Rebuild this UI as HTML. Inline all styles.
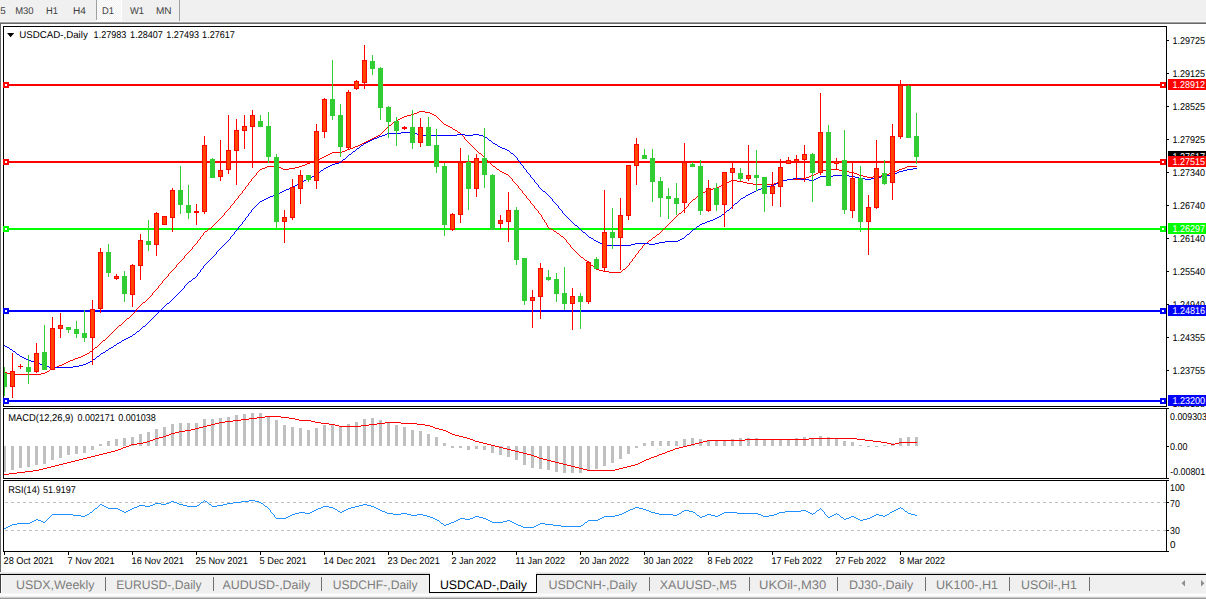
<!DOCTYPE html><html><head><meta charset="utf-8"><title>USDCAD-,Daily</title>
<style>html,body{margin:0;padding:0;background:#f0f0f0;overflow:hidden}svg{display:block}text{font-family:"Liberation Sans",sans-serif;text-rendering:geometricPrecision}.ax{font-size:9.9px;fill:#000}.tb{font-size:9.8px;fill:#404040}.tab{font-size:12.4px;fill:#7d7d7d}.dt{font-size:9.9px;fill:#000}.lbl{font-size:9.9px;fill:#fff}</style></head><body>
<svg width="1206" height="599" viewBox="0 0 1206 599">
<g shape-rendering="crispEdges">
<rect x="0" y="0" width="1206" height="599" fill="#f0f0f0"/>
<rect x="96" y="0" width="1" height="20" fill="#a0a0a0"/>
<rect x="179" y="0" width="1" height="22" fill="#a0a0a0"/>
<defs><pattern id="ck" width="2" height="2" patternUnits="userSpaceOnUse"><rect width="2" height="2" fill="#f0f0f0"/><rect width="1" height="1" fill="#fff"/><rect x="1" y="1" width="1" height="1" fill="#fff"/></pattern></defs>
<rect x="97" y="0" width="24" height="20" fill="url(#ck)"/>
<rect x="121" y="0" width="1" height="21" fill="#fff"/>
<rect x="96" y="20" width="26" height="1" fill="#fff"/>
<rect x="0" y="21" width="1206" height="1" fill="#f8f8f8"/>
<rect x="0" y="22" width="1206" height="1" fill="#a0a0a0"/>
<rect x="0" y="23" width="1206" height="1" fill="#696969"/>
<rect x="0" y="24" width="1206" height="549" fill="#fff"/>
<rect x="0" y="24" width="1" height="548" fill="#696969"/>
<rect x="3" y="26" width="1164" height="1" fill="#000"/>
<rect x="3" y="26" width="1" height="381" fill="#000"/>
<rect x="3" y="406" width="1164" height="1" fill="#000"/>
<rect x="1166" y="26" width="1" height="381" fill="#000"/>
<rect x="3" y="408" width="1164" height="1" fill="#000"/>
<rect x="3" y="408" width="1" height="71" fill="#000"/>
<rect x="3" y="478" width="1164" height="1" fill="#000"/>
<rect x="1166" y="408" width="1" height="71" fill="#000"/>
<rect x="3" y="480" width="1164" height="1" fill="#000"/>
<rect x="3" y="480" width="1" height="72" fill="#000"/>
<rect x="3" y="551" width="1164" height="1" fill="#000"/>
<rect x="1166" y="480" width="1" height="72" fill="#000"/>
</g>
<g shape-rendering="crispEdges">
<rect x="4" y="84" width="1162" height="2" fill="#ff0000"/>
<rect x="3" y="82" width="6" height="6" fill="#ff0000"/>
<rect x="5" y="84" width="2" height="2" fill="#fff"/>
<rect x="1160" y="82" width="6" height="6" fill="#ff0000"/>
<rect x="1162" y="84" width="2" height="2" fill="#fff"/>
<rect x="4" y="161" width="1162" height="2" fill="#ff0000"/>
<rect x="3" y="159" width="6" height="6" fill="#ff0000"/>
<rect x="5" y="161" width="2" height="2" fill="#fff"/>
<rect x="1160" y="159" width="6" height="6" fill="#ff0000"/>
<rect x="1162" y="161" width="2" height="2" fill="#fff"/>
<rect x="4" y="228" width="1162" height="2" fill="#00ff00"/>
<rect x="3" y="226" width="6" height="6" fill="#00ff00"/>
<rect x="5" y="228" width="2" height="2" fill="#fff"/>
<rect x="1160" y="226" width="6" height="6" fill="#00ff00"/>
<rect x="1162" y="228" width="2" height="2" fill="#fff"/>
<rect x="4" y="310" width="1162" height="2" fill="#0000ff"/>
<rect x="3" y="308" width="6" height="6" fill="#0000ff"/>
<rect x="5" y="310" width="2" height="2" fill="#fff"/>
<rect x="1160" y="308" width="6" height="6" fill="#0000ff"/>
<rect x="1162" y="310" width="2" height="2" fill="#fff"/>
<rect x="4" y="400" width="1162" height="2" fill="#0000ff"/>
<rect x="3" y="398" width="6" height="6" fill="#0000ff"/>
<rect x="5" y="400" width="2" height="2" fill="#fff"/>
<rect x="1160" y="398" width="6" height="6" fill="#0000ff"/>
<rect x="1162" y="400" width="2" height="2" fill="#fff"/>
</g>
<defs><clipPath id="cm"><rect x="4" y="27" width="1162" height="379"/></clipPath></defs>
<g shape-rendering="crispEdges" clip-path="url(#cm)">
<path d="M419 111h6v1h-6zM417 112h2v1h-2zM425 112h5v1h-5zM414 113h3v1h-3zM430 113h2v1h-2zM411 114h3v1h-3zM432 114h2v1h-2zM407 115h4v1h-4zM434 115h2v1h-2zM404 116h3v1h-3zM436 116h1v1h-1zM402 117h2v1h-2zM437 117h1v1h-1zM400 118h2v1h-2zM438 118h1v1h-1zM398 119h2v1h-2zM439 119h1v1h-1zM396 120h2v1h-2zM440 120h1v1h-1zM395 121h1v1h-1zM441 121h1v1h-1zM393 122h2v1h-2zM442 122h1v1h-1zM392 123h1v1h-1zM443 123h1v1h-1zM391 124h1v1h-1zM444 124h2v1h-2zM389 125h2v1h-2zM446 125h2v1h-2zM388 126h1v1h-1zM448 126h2v1h-2zM387 127h1v1h-1zM450 127h2v1h-2zM386 128h1v1h-1zM452 128h1v1h-1zM385 129h1v1h-1zM453 129h2v1h-2zM384 130h1v1h-1zM455 130h2v1h-2zM383 131h1v1h-1zM457 131h1v1h-1zM382 132h1v1h-1zM458 132h2v1h-2zM381 133h1v1h-1zM460 133h1v1h-1zM380 134h1v1h-1zM461 134h1v1h-1zM378 135h2v1h-2zM462 135h1v1h-1zM376 136h2v1h-2zM463 136h1v1h-1zM374 137h2v1h-2zM464 137h1v1h-1zM372 138h2v1h-2zM464 138h1v1h-1zM370 139h2v1h-2zM465 139h1v1h-1zM368 140h2v1h-2zM466 140h1v1h-1zM366 141h2v1h-2zM467 141h1v1h-1zM364 142h2v1h-2zM468 142h1v1h-1zM362 143h2v1h-2zM469 143h1v1h-1zM360 144h2v1h-2zM470 144h1v1h-1zM358 145h2v1h-2zM471 145h1v1h-1zM355 146h3v1h-3zM472 146h1v1h-1zM353 147h2v1h-2zM473 147h1v1h-1zM350 148h3v1h-3zM474 148h1v1h-1zM347 149h3v1h-3zM475 149h1v1h-1zM345 150h2v1h-2zM476 150h1v1h-1zM342 151h3v1h-3zM477 151h1v1h-1zM332 152h10v1h-10zM478 152h1v1h-1zM330 153h2v1h-2zM479 153h2v1h-2zM328 154h2v1h-2zM481 154h1v1h-1zM326 155h2v1h-2zM482 155h1v1h-1zM324 156h2v1h-2zM483 156h1v1h-1zM322 157h2v1h-2zM484 157h1v1h-1zM320 158h2v1h-2zM485 158h1v1h-1zM318 159h2v1h-2zM486 159h1v1h-1zM315 160h3v1h-3zM487 160h1v1h-1zM313 161h2v1h-2zM488 161h1v1h-1zM310 162h3v1h-3zM489 162h1v1h-1zM307 163h3v1h-3zM490 163h1v1h-1zM305 164h2v1h-2zM491 164h1v1h-1zM302 165h3v1h-3zM492 165h1v1h-1zM267 166h11v1h-11zM299 166h3v1h-3zM493 166h2v1h-2zM907 166h10v1h-10zM265 167h2v1h-2zM278 167h3v1h-3zM295 167h4v1h-4zM495 167h1v1h-1zM905 167h2v1h-2zM262 168h3v1h-3zM281 168h2v1h-2zM289 168h6v1h-6zM496 168h1v1h-1zM902 168h3v1h-3zM260 169h2v1h-2zM283 169h6v1h-6zM497 169h2v1h-2zM827 169h12v1h-12zM899 169h3v1h-3zM259 170h1v1h-1zM499 170h1v1h-1zM823 170h4v1h-4zM839 170h4v1h-4zM897 170h2v1h-2zM258 171h1v1h-1zM500 171h2v1h-2zM820 171h3v1h-3zM843 171h6v1h-6zM894 171h3v1h-3zM257 172h1v1h-1zM502 172h2v1h-2zM818 172h2v1h-2zM849 172h5v1h-5zM891 172h3v1h-3zM256 173h1v1h-1zM504 173h2v1h-2zM816 173h2v1h-2zM854 173h3v1h-3zM889 173h2v1h-2zM256 174h1v1h-1zM506 174h2v1h-2zM814 174h2v1h-2zM857 174h2v1h-2zM886 174h3v1h-3zM255 175h1v1h-1zM508 175h1v1h-1zM811 175h3v1h-3zM859 175h4v1h-4zM881 175h5v1h-5zM254 176h1v1h-1zM509 176h1v1h-1zM809 176h2v1h-2zM863 176h4v1h-4zM873 176h8v1h-8zM253 177h1v1h-1zM510 177h1v1h-1zM806 177h3v1h-3zM867 177h6v1h-6zM252 178h1v1h-1zM511 178h1v1h-1zM801 178h5v1h-5zM251 179h1v1h-1zM512 179h1v1h-1zM787 179h14v1h-14zM251 180h1v1h-1zM512 180h1v1h-1zM731 180h6v1h-6zM783 180h4v1h-4zM250 181h1v1h-1zM513 181h1v1h-1zM729 181h2v1h-2zM737 181h6v1h-6zM779 181h4v1h-4zM249 182h1v1h-1zM514 182h1v1h-1zM726 182h3v1h-3zM743 182h4v1h-4zM777 182h2v1h-2zM248 183h1v1h-1zM515 183h1v1h-1zM724 183h2v1h-2zM747 183h6v1h-6zM774 183h3v1h-3zM248 184h1v1h-1zM516 184h1v1h-1zM722 184h2v1h-2zM753 184h21v1h-21zM247 185h1v1h-1zM517 185h1v1h-1zM721 185h1v1h-1zM246 186h1v1h-1zM518 186h1v1h-1zM719 186h2v1h-2zM245 187h1v1h-1zM518 187h1v1h-1zM717 187h2v1h-2zM245 188h1v1h-1zM519 188h1v1h-1zM713 188h4v1h-4zM244 189h1v1h-1zM520 189h1v1h-1zM708 189h5v1h-5zM243 190h1v1h-1zM521 190h1v1h-1zM706 190h2v1h-2zM242 191h1v1h-1zM522 191h1v1h-1zM705 191h1v1h-1zM242 192h1v1h-1zM522 192h1v1h-1zM703 192h2v1h-2zM241 193h1v1h-1zM523 193h1v1h-1zM701 193h2v1h-2zM240 194h1v1h-1zM524 194h1v1h-1zM700 194h1v1h-1zM239 195h1v1h-1zM525 195h1v1h-1zM699 195h1v1h-1zM238 196h1v1h-1zM526 196h1v1h-1zM697 196h2v1h-2zM238 197h1v1h-1zM526 197h1v1h-1zM696 197h1v1h-1zM237 198h1v1h-1zM527 198h1v1h-1zM695 198h1v1h-1zM236 199h1v1h-1zM528 199h1v1h-1zM693 199h2v1h-2zM235 200h1v1h-1zM529 200h1v1h-1zM692 200h1v1h-1zM234 201h1v1h-1zM530 201h1v1h-1zM691 201h1v1h-1zM234 202h1v1h-1zM530 202h1v1h-1zM690 202h1v1h-1zM233 203h1v1h-1zM531 203h1v1h-1zM689 203h1v1h-1zM232 204h1v1h-1zM532 204h1v1h-1zM688 204h1v1h-1zM231 205h1v1h-1zM533 205h1v1h-1zM688 205h1v1h-1zM230 206h1v1h-1zM534 206h1v1h-1zM687 206h1v1h-1zM230 207h1v1h-1zM534 207h1v1h-1zM686 207h1v1h-1zM229 208h1v1h-1zM535 208h1v1h-1zM685 208h1v1h-1zM228 209h1v1h-1zM536 209h1v1h-1zM684 209h1v1h-1zM227 210h1v1h-1zM537 210h1v1h-1zM683 210h1v1h-1zM226 211h1v1h-1zM538 211h1v1h-1zM682 211h1v1h-1zM225 212h1v1h-1zM538 212h1v1h-1zM681 212h1v1h-1zM224 213h1v1h-1zM539 213h1v1h-1zM679 213h2v1h-2zM224 214h1v1h-1zM540 214h1v1h-1zM678 214h1v1h-1zM223 215h1v1h-1zM541 215h1v1h-1zM677 215h1v1h-1zM222 216h1v1h-1zM541 216h1v1h-1zM676 216h1v1h-1zM221 217h1v1h-1zM542 217h1v1h-1zM675 217h1v1h-1zM220 218h1v1h-1zM542 218h1v1h-1zM674 218h1v1h-1zM219 219h1v1h-1zM543 219h1v1h-1zM673 219h1v1h-1zM218 220h1v1h-1zM544 220h1v1h-1zM672 220h1v1h-1zM217 221h1v1h-1zM544 221h1v1h-1zM671 221h1v1h-1zM216 222h1v1h-1zM545 222h1v1h-1zM670 222h1v1h-1zM215 223h1v1h-1zM546 223h1v1h-1zM669 223h1v1h-1zM214 224h1v1h-1zM546 224h1v1h-1zM668 224h1v1h-1zM213 225h1v1h-1zM547 225h1v1h-1zM667 225h1v1h-1zM212 226h1v1h-1zM547 226h1v1h-1zM666 226h1v1h-1zM211 227h1v1h-1zM548 227h1v1h-1zM665 227h1v1h-1zM209 228h2v1h-2zM549 228h2v1h-2zM664 228h1v1h-1zM208 229h1v1h-1zM551 229h2v1h-2zM663 229h1v1h-1zM207 230h1v1h-1zM553 230h1v1h-1zM662 230h1v1h-1zM205 231h2v1h-2zM554 231h2v1h-2zM661 231h1v1h-1zM204 232h1v1h-1zM556 232h1v1h-1zM660 232h1v1h-1zM203 233h1v1h-1zM557 233h2v1h-2zM659 233h1v1h-1zM203 234h1v1h-1zM559 234h1v1h-1zM657 234h2v1h-2zM202 235h1v1h-1zM560 235h1v1h-1zM656 235h1v1h-1zM201 236h1v1h-1zM561 236h2v1h-2zM655 236h1v1h-1zM200 237h1v1h-1zM563 237h1v1h-1zM653 237h2v1h-2zM200 238h1v1h-1zM564 238h1v1h-1zM652 238h1v1h-1zM199 239h1v1h-1zM565 239h1v1h-1zM651 239h1v1h-1zM198 240h1v1h-1zM566 240h1v1h-1zM649 240h2v1h-2zM197 241h1v1h-1zM566 241h1v1h-1zM648 241h1v1h-1zM197 242h1v1h-1zM567 242h1v1h-1zM647 242h1v1h-1zM196 243h1v1h-1zM568 243h1v1h-1zM645 243h2v1h-2zM195 244h1v1h-1zM569 244h1v1h-1zM644 244h1v1h-1zM194 245h1v1h-1zM570 245h1v1h-1zM643 245h1v1h-1zM193 246h1v1h-1zM570 246h1v1h-1zM642 246h1v1h-1zM192 247h1v1h-1zM571 247h1v1h-1zM642 247h1v1h-1zM192 248h1v1h-1zM572 248h1v1h-1zM641 248h1v1h-1zM191 249h1v1h-1zM573 249h1v1h-1zM640 249h1v1h-1zM190 250h1v1h-1zM574 250h1v1h-1zM639 250h1v1h-1zM189 251h1v1h-1zM575 251h1v1h-1zM638 251h1v1h-1zM188 252h1v1h-1zM576 252h1v1h-1zM638 252h1v1h-1zM187 253h1v1h-1zM577 253h1v1h-1zM637 253h1v1h-1zM186 254h1v1h-1zM578 254h1v1h-1zM636 254h1v1h-1zM185 255h1v1h-1zM579 255h1v1h-1zM635 255h1v1h-1zM184 256h1v1h-1zM580 256h1v1h-1zM635 256h1v1h-1zM184 257h1v1h-1zM581 257h2v1h-2zM634 257h1v1h-1zM183 258h1v1h-1zM583 258h1v1h-1zM633 258h1v1h-1zM182 259h1v1h-1zM584 259h1v1h-1zM632 259h1v1h-1zM181 260h1v1h-1zM585 260h2v1h-2zM632 260h1v1h-1zM180 261h1v1h-1zM587 261h1v1h-1zM631 261h1v1h-1zM179 262h1v1h-1zM588 262h1v1h-1zM630 262h1v1h-1zM178 263h1v1h-1zM589 263h1v1h-1zM629 263h1v1h-1zM177 264h1v1h-1zM590 264h1v1h-1zM629 264h1v1h-1zM176 265h1v1h-1zM591 265h2v1h-2zM628 265h1v1h-1zM176 266h1v1h-1zM593 266h1v1h-1zM627 266h1v1h-1zM175 267h1v1h-1zM594 267h1v1h-1zM626 267h1v1h-1zM174 268h1v1h-1zM595 268h1v1h-1zM625 268h1v1h-1zM173 269h1v1h-1zM596 269h3v1h-3zM623 269h2v1h-2zM172 270h1v1h-1zM599 270h4v1h-4zM622 270h1v1h-1zM171 271h1v1h-1zM603 271h6v1h-6zM621 271h1v1h-1zM170 272h1v1h-1zM609 272h12v1h-12zM169 273h1v1h-1zM168 274h1v1h-1zM168 275h1v1h-1zM167 276h1v1h-1zM166 277h1v1h-1zM165 278h1v1h-1zM164 279h1v1h-1zM163 280h1v1h-1zM162 281h1v1h-1zM162 282h1v1h-1zM161 283h1v1h-1zM160 284h1v1h-1zM159 285h1v1h-1zM158 286h1v1h-1zM158 287h1v1h-1zM157 288h1v1h-1zM156 289h1v1h-1zM155 290h1v1h-1zM154 291h1v1h-1zM153 292h1v1h-1zM152 293h1v1h-1zM152 294h1v1h-1zM151 295h1v1h-1zM150 296h1v1h-1zM149 297h1v1h-1zM148 298h1v1h-1zM147 299h1v1h-1zM146 300h1v1h-1zM145 301h1v1h-1zM143 302h2v1h-2zM142 303h1v1h-1zM141 304h1v1h-1zM140 305h1v1h-1zM139 306h1v1h-1zM138 307h1v1h-1zM137 308h1v1h-1zM136 309h1v1h-1zM136 310h1v1h-1zM135 311h1v1h-1zM134 312h1v1h-1zM133 313h1v1h-1zM132 314h1v1h-1zM131 315h1v1h-1zM130 316h1v1h-1zM129 317h1v1h-1zM127 318h2v1h-2zM126 319h1v1h-1zM125 320h1v1h-1zM124 321h1v1h-1zM123 322h1v1h-1zM122 323h1v1h-1zM121 324h1v1h-1zM119 325h2v1h-2zM118 326h1v1h-1zM117 327h1v1h-1zM116 328h1v1h-1zM115 329h1v1h-1zM114 330h1v1h-1zM113 331h1v1h-1zM112 332h1v1h-1zM111 333h1v1h-1zM110 334h1v1h-1zM109 335h1v1h-1zM108 336h1v1h-1zM107 337h1v1h-1zM106 338h1v1h-1zM105 339h1v1h-1zM103 340h2v1h-2zM102 341h1v1h-1zM101 342h1v1h-1zM100 343h1v1h-1zM99 344h1v1h-1zM98 345h1v1h-1zM97 346h1v1h-1zM95 347h2v1h-2zM94 348h1v1h-1zM93 349h1v1h-1zM92 350h1v1h-1zM90 351h2v1h-2zM89 352h1v1h-1zM87 353h2v1h-2zM85 354h2v1h-2zM83 355h2v1h-2zM81 356h2v1h-2zM78 357h3v1h-3zM75 358h3v1h-3zM73 359h2v1h-2zM70 360h3v1h-3zM68 361h2v1h-2zM66 362h2v1h-2zM64 363h2v1h-2zM62 364h2v1h-2zM59 365h3v1h-3zM57 366h2v1h-2zM54 367h3v1h-3zM52 368h2v1h-2zM50 369h2v1h-2zM49 370h1v1h-1zM47 371h2v1h-2zM4 372h3v1h-3zM45 372h2v1h-2zM7 373h4v1h-4zM41 373h4v1h-4zM11 374h30v1h-30z" fill="#ff0000"/>
<path d="M401 132h13v1h-13zM387 133h14v1h-14zM414 133h3v1h-3zM385 134h2v1h-2zM417 134h2v1h-2zM457 134h8v1h-8zM473 134h6v1h-6zM382 135h3v1h-3zM419 135h38v1h-38zM465 135h8v1h-8zM479 135h4v1h-4zM379 136h3v1h-3zM483 136h2v1h-2zM377 137h2v1h-2zM485 137h2v1h-2zM374 138h3v1h-3zM487 138h1v1h-1zM372 139h2v1h-2zM488 139h1v1h-1zM370 140h2v1h-2zM489 140h2v1h-2zM368 141h2v1h-2zM491 141h1v1h-1zM366 142h2v1h-2zM492 142h1v1h-1zM364 143h2v1h-2zM493 143h2v1h-2zM363 144h1v1h-1zM495 144h2v1h-2zM361 145h2v1h-2zM497 145h1v1h-1zM360 146h1v1h-1zM498 146h2v1h-2zM359 147h1v1h-1zM500 147h2v1h-2zM357 148h2v1h-2zM502 148h3v1h-3zM356 149h1v1h-1zM505 149h2v1h-2zM355 150h1v1h-1zM507 150h2v1h-2zM353 151h2v1h-2zM509 151h1v1h-1zM352 152h1v1h-1zM510 152h1v1h-1zM351 153h1v1h-1zM511 153h2v1h-2zM349 154h2v1h-2zM513 154h1v1h-1zM348 155h1v1h-1zM514 155h1v1h-1zM347 156h1v1h-1zM515 156h1v1h-1zM346 157h1v1h-1zM516 157h1v1h-1zM345 158h1v1h-1zM517 158h1v1h-1zM343 159h2v1h-2zM517 159h1v1h-1zM342 160h1v1h-1zM518 160h1v1h-1zM341 161h1v1h-1zM519 161h1v1h-1zM339 162h2v1h-2zM520 162h1v1h-1zM335 163h4v1h-4zM520 163h1v1h-1zM332 164h3v1h-3zM521 164h1v1h-1zM330 165h2v1h-2zM522 165h1v1h-1zM328 166h2v1h-2zM523 166h1v1h-1zM326 167h2v1h-2zM523 167h1v1h-1zM324 168h2v1h-2zM524 168h1v1h-1zM913 168h4v1h-4zM323 169h1v1h-1zM525 169h1v1h-1zM907 169h6v1h-6zM321 170h2v1h-2zM526 170h1v1h-1zM903 170h4v1h-4zM320 171h1v1h-1zM526 171h1v1h-1zM899 171h4v1h-4zM319 172h1v1h-1zM527 172h1v1h-1zM897 172h2v1h-2zM317 173h2v1h-2zM528 173h1v1h-1zM894 173h3v1h-3zM316 174h1v1h-1zM529 174h1v1h-1zM891 174h3v1h-3zM314 175h2v1h-2zM530 175h1v1h-1zM833 175h16v1h-16zM887 175h4v1h-4zM312 176h2v1h-2zM530 176h1v1h-1zM820 176h13v1h-13zM849 176h6v1h-6zM881 176h6v1h-6zM310 177h2v1h-2zM531 177h1v1h-1zM818 177h2v1h-2zM855 177h4v1h-4zM875 177h6v1h-6zM308 178h2v1h-2zM532 178h1v1h-1zM793 178h8v1h-8zM816 178h2v1h-2zM859 178h6v1h-6zM871 178h4v1h-4zM306 179h2v1h-2zM533 179h1v1h-1zM787 179h6v1h-6zM801 179h8v1h-8zM814 179h2v1h-2zM865 179h6v1h-6zM304 180h2v1h-2zM534 180h1v1h-1zM783 180h4v1h-4zM809 180h5v1h-5zM302 181h2v1h-2zM534 181h1v1h-1zM780 181h3v1h-3zM300 182h2v1h-2zM535 182h1v1h-1zM778 182h2v1h-2zM298 183h2v1h-2zM536 183h1v1h-1zM776 183h2v1h-2zM297 184h1v1h-1zM537 184h1v1h-1zM774 184h2v1h-2zM295 185h2v1h-2zM538 185h1v1h-1zM771 185h3v1h-3zM293 186h2v1h-2zM538 186h1v1h-1zM767 186h4v1h-4zM291 187h2v1h-2zM539 187h1v1h-1zM763 187h4v1h-4zM289 188h2v1h-2zM540 188h1v1h-1zM761 188h2v1h-2zM286 189h3v1h-3zM541 189h1v1h-1zM758 189h3v1h-3zM284 190h2v1h-2zM542 190h1v1h-1zM756 190h2v1h-2zM282 191h2v1h-2zM543 191h2v1h-2zM754 191h2v1h-2zM280 192h2v1h-2zM545 192h1v1h-1zM752 192h2v1h-2zM278 193h2v1h-2zM546 193h1v1h-1zM750 193h2v1h-2zM275 194h3v1h-3zM547 194h1v1h-1zM748 194h2v1h-2zM273 195h2v1h-2zM548 195h1v1h-1zM746 195h2v1h-2zM270 196h3v1h-3zM549 196h1v1h-1zM745 196h1v1h-1zM268 197h2v1h-2zM550 197h1v1h-1zM743 197h2v1h-2zM266 198h2v1h-2zM551 198h1v1h-1zM741 198h2v1h-2zM264 199h2v1h-2zM552 199h1v1h-1zM740 199h1v1h-1zM262 200h2v1h-2zM552 200h1v1h-1zM739 200h1v1h-1zM260 201h2v1h-2zM553 201h1v1h-1zM738 201h1v1h-1zM259 202h1v1h-1zM554 202h1v1h-1zM737 202h1v1h-1zM258 203h1v1h-1zM555 203h1v1h-1zM735 203h2v1h-2zM257 204h1v1h-1zM556 204h1v1h-1zM734 204h1v1h-1zM256 205h1v1h-1zM557 205h1v1h-1zM733 205h1v1h-1zM255 206h1v1h-1zM558 206h1v1h-1zM732 206h1v1h-1zM254 207h1v1h-1zM558 207h1v1h-1zM731 207h1v1h-1zM253 208h1v1h-1zM559 208h1v1h-1zM730 208h1v1h-1zM252 209h1v1h-1zM560 209h1v1h-1zM729 209h1v1h-1zM251 210h1v1h-1zM561 210h1v1h-1zM727 210h2v1h-2zM251 211h1v1h-1zM562 211h1v1h-1zM726 211h1v1h-1zM250 212h1v1h-1zM562 212h1v1h-1zM725 212h1v1h-1zM249 213h1v1h-1zM563 213h1v1h-1zM724 213h1v1h-1zM248 214h1v1h-1zM564 214h1v1h-1zM722 214h2v1h-2zM248 215h1v1h-1zM565 215h1v1h-1zM721 215h1v1h-1zM247 216h1v1h-1zM566 216h1v1h-1zM719 216h2v1h-2zM246 217h1v1h-1zM567 217h1v1h-1zM717 217h2v1h-2zM245 218h1v1h-1zM568 218h1v1h-1zM715 218h2v1h-2zM245 219h1v1h-1zM569 219h1v1h-1zM713 219h2v1h-2zM244 220h1v1h-1zM570 220h1v1h-1zM710 220h3v1h-3zM243 221h1v1h-1zM571 221h1v1h-1zM707 221h3v1h-3zM242 222h1v1h-1zM572 222h1v1h-1zM705 222h2v1h-2zM242 223h1v1h-1zM573 223h1v1h-1zM702 223h3v1h-3zM241 224h1v1h-1zM574 224h1v1h-1zM700 224h2v1h-2zM240 225h1v1h-1zM575 225h2v1h-2zM699 225h1v1h-1zM239 226h1v1h-1zM577 226h1v1h-1zM697 226h2v1h-2zM238 227h1v1h-1zM578 227h1v1h-1zM696 227h1v1h-1zM238 228h1v1h-1zM579 228h1v1h-1zM695 228h1v1h-1zM237 229h1v1h-1zM580 229h1v1h-1zM693 229h2v1h-2zM236 230h1v1h-1zM581 230h1v1h-1zM692 230h1v1h-1zM235 231h1v1h-1zM582 231h1v1h-1zM691 231h1v1h-1zM234 232h1v1h-1zM583 232h2v1h-2zM690 232h1v1h-1zM234 233h1v1h-1zM585 233h1v1h-1zM689 233h1v1h-1zM233 234h1v1h-1zM586 234h1v1h-1zM687 234h2v1h-2zM232 235h1v1h-1zM587 235h1v1h-1zM686 235h1v1h-1zM231 236h1v1h-1zM588 236h1v1h-1zM685 236h1v1h-1zM230 237h1v1h-1zM589 237h2v1h-2zM684 237h1v1h-1zM230 238h1v1h-1zM591 238h2v1h-2zM682 238h2v1h-2zM229 239h1v1h-1zM593 239h1v1h-1zM680 239h2v1h-2zM228 240h1v1h-1zM594 240h2v1h-2zM678 240h2v1h-2zM227 241h1v1h-1zM596 241h2v1h-2zM665 241h13v1h-13zM226 242h1v1h-1zM598 242h2v1h-2zM659 242h6v1h-6zM225 243h1v1h-1zM600 243h2v1h-2zM635 243h14v1h-14zM655 243h4v1h-4zM224 244h1v1h-1zM602 244h2v1h-2zM631 244h4v1h-4zM649 244h6v1h-6zM223 245h1v1h-1zM604 245h27v1h-27zM222 246h1v1h-1zM221 247h1v1h-1zM220 248h1v1h-1zM219 249h1v1h-1zM218 250h1v1h-1zM217 251h1v1h-1zM216 252h1v1h-1zM216 253h1v1h-1zM215 254h1v1h-1zM214 255h1v1h-1zM213 256h1v1h-1zM212 257h1v1h-1zM211 258h1v1h-1zM210 259h1v1h-1zM209 260h1v1h-1zM208 261h1v1h-1zM207 262h1v1h-1zM206 263h1v1h-1zM205 264h1v1h-1zM204 265h1v1h-1zM203 266h1v1h-1zM203 267h1v1h-1zM202 268h1v1h-1zM201 269h1v1h-1zM200 270h1v1h-1zM200 271h1v1h-1zM199 272h1v1h-1zM198 273h1v1h-1zM197 274h1v1h-1zM197 275h1v1h-1zM196 276h1v1h-1zM195 277h1v1h-1zM193 278h2v1h-2zM192 279h1v1h-1zM191 280h1v1h-1zM189 281h2v1h-2zM188 282h1v1h-1zM187 283h1v1h-1zM186 284h1v1h-1zM185 285h1v1h-1zM184 286h1v1h-1zM184 287h1v1h-1zM183 288h1v1h-1zM182 289h1v1h-1zM181 290h1v1h-1zM180 291h1v1h-1zM179 292h1v1h-1zM178 293h1v1h-1zM177 294h1v1h-1zM176 295h1v1h-1zM175 296h1v1h-1zM174 297h1v1h-1zM173 298h1v1h-1zM172 299h1v1h-1zM171 300h1v1h-1zM170 301h1v1h-1zM169 302h1v1h-1zM167 303h2v1h-2zM166 304h1v1h-1zM165 305h1v1h-1zM164 306h1v1h-1zM163 307h1v1h-1zM162 308h1v1h-1zM161 309h1v1h-1zM160 310h1v1h-1zM159 311h1v1h-1zM158 312h1v1h-1zM157 313h1v1h-1zM156 314h1v1h-1zM155 315h1v1h-1zM154 316h1v1h-1zM153 317h1v1h-1zM152 318h1v1h-1zM151 319h1v1h-1zM150 320h1v1h-1zM149 321h1v1h-1zM148 322h1v1h-1zM147 323h1v1h-1zM146 324h1v1h-1zM145 325h1v1h-1zM143 326h2v1h-2zM142 327h1v1h-1zM141 328h1v1h-1zM140 329h1v1h-1zM139 330h1v1h-1zM137 331h2v1h-2zM136 332h1v1h-1zM135 333h1v1h-1zM133 334h2v1h-2zM132 335h1v1h-1zM130 336h2v1h-2zM128 337h2v1h-2zM126 338h2v1h-2zM124 339h2v1h-2zM122 340h2v1h-2zM121 341h1v1h-1zM119 342h2v1h-2zM117 343h2v1h-2zM116 344h1v1h-1zM4 345h1v1h-1zM114 345h2v1h-2zM5 346h2v1h-2zM113 346h1v1h-1zM7 347h2v1h-2zM111 347h2v1h-2zM9 348h1v1h-1zM109 348h2v1h-2zM10 349h2v1h-2zM108 349h1v1h-1zM12 350h1v1h-1zM106 350h2v1h-2zM13 351h2v1h-2zM105 351h1v1h-1zM15 352h1v1h-1zM103 352h2v1h-2zM16 353h1v1h-1zM101 353h2v1h-2zM17 354h2v1h-2zM100 354h1v1h-1zM19 355h1v1h-1zM99 355h1v1h-1zM20 356h2v1h-2zM97 356h2v1h-2zM22 357h2v1h-2zM96 357h1v1h-1zM24 358h2v1h-2zM95 358h1v1h-1zM26 359h2v1h-2zM93 359h2v1h-2zM28 360h3v1h-3zM92 360h1v1h-1zM31 361h4v1h-4zM90 361h2v1h-2zM35 362h3v1h-3zM88 362h2v1h-2zM38 363h2v1h-2zM86 363h2v1h-2zM40 364h2v1h-2zM83 364h3v1h-3zM42 365h2v1h-2zM79 365h4v1h-4zM44 366h5v1h-5zM73 366h6v1h-6zM49 367h24v1h-24z" fill="#0000ff"/>
<rect x="4" y="367" width="1" height="29" fill="#32cd32"/>
<rect x="2" y="373" width="5" height="14" fill="#32cd32"/>
<rect x="12" y="353" width="1" height="45" fill="#ff0000"/>
<rect x="10" y="371" width="5" height="16" fill="#ff0000"/>
<rect x="11" y="372" width="3" height="14" fill="#ff4500"/>
<rect x="20" y="364" width="1" height="5" fill="#ff0000"/>
<rect x="18" y="366" width="5" height="1" fill="#ff0000"/>
<rect x="28" y="355" width="1" height="29" fill="#32cd32"/>
<rect x="26" y="367" width="5" height="5" fill="#32cd32"/>
<rect x="36" y="343" width="1" height="30" fill="#ff0000"/>
<rect x="34" y="353" width="5" height="19" fill="#ff0000"/>
<rect x="35" y="354" width="3" height="17" fill="#ff4500"/>
<rect x="44" y="325" width="1" height="45" fill="#32cd32"/>
<rect x="42" y="352" width="5" height="18" fill="#32cd32"/>
<rect x="52" y="317" width="1" height="53" fill="#ff0000"/>
<rect x="50" y="328" width="5" height="42" fill="#ff0000"/>
<rect x="51" y="329" width="3" height="40" fill="#ff4500"/>
<rect x="60" y="313" width="1" height="25" fill="#ff0000"/>
<rect x="58" y="325" width="5" height="4" fill="#ff0000"/>
<rect x="59" y="326" width="3" height="2" fill="#ff4500"/>
<rect x="68" y="327" width="1" height="6" fill="#32cd32"/>
<rect x="66" y="327" width="5" height="3" fill="#32cd32"/>
<rect x="76" y="321" width="1" height="17" fill="#32cd32"/>
<rect x="74" y="329" width="5" height="5" fill="#32cd32"/>
<rect x="84" y="310" width="1" height="32" fill="#32cd32"/>
<rect x="82" y="333" width="5" height="5" fill="#32cd32"/>
<rect x="92" y="300" width="1" height="65" fill="#ff0000"/>
<rect x="90" y="309" width="5" height="29" fill="#ff0000"/>
<rect x="91" y="310" width="3" height="27" fill="#ff4500"/>
<rect x="100" y="248" width="1" height="65" fill="#ff0000"/>
<rect x="98" y="252" width="5" height="57" fill="#ff0000"/>
<rect x="99" y="253" width="3" height="55" fill="#ff4500"/>
<rect x="108" y="244" width="1" height="33" fill="#32cd32"/>
<rect x="106" y="252" width="5" height="21" fill="#32cd32"/>
<rect x="116" y="274" width="1" height="6" fill="#ff0000"/>
<rect x="114" y="276" width="5" height="3" fill="#ff0000"/>
<rect x="115" y="277" width="3" height="1" fill="#ff4500"/>
<rect x="124" y="271" width="1" height="31" fill="#32cd32"/>
<rect x="122" y="276" width="5" height="18" fill="#32cd32"/>
<rect x="132" y="264" width="1" height="43" fill="#ff0000"/>
<rect x="130" y="265" width="5" height="30" fill="#ff0000"/>
<rect x="131" y="266" width="3" height="28" fill="#ff4500"/>
<rect x="140" y="234" width="1" height="46" fill="#ff0000"/>
<rect x="138" y="240" width="5" height="26" fill="#ff0000"/>
<rect x="139" y="241" width="3" height="24" fill="#ff4500"/>
<rect x="148" y="220" width="1" height="31" fill="#32cd32"/>
<rect x="146" y="241" width="5" height="4" fill="#32cd32"/>
<rect x="156" y="212" width="1" height="44" fill="#ff0000"/>
<rect x="154" y="213" width="5" height="32" fill="#ff0000"/>
<rect x="155" y="214" width="3" height="30" fill="#ff4500"/>
<rect x="164" y="216" width="1" height="9" fill="#ff0000"/>
<rect x="162" y="216" width="5" height="9" fill="#ff0000"/>
<rect x="163" y="217" width="3" height="7" fill="#ff4500"/>
<rect x="172" y="188" width="1" height="44" fill="#ff0000"/>
<rect x="170" y="190" width="5" height="28" fill="#ff0000"/>
<rect x="171" y="191" width="3" height="26" fill="#ff4500"/>
<rect x="180" y="166" width="1" height="48" fill="#32cd32"/>
<rect x="178" y="190" width="5" height="15" fill="#32cd32"/>
<rect x="188" y="185" width="1" height="34" fill="#32cd32"/>
<rect x="186" y="205" width="5" height="8" fill="#32cd32"/>
<rect x="196" y="204" width="1" height="21" fill="#ff0000"/>
<rect x="194" y="211" width="5" height="2" fill="#ff0000"/>
<rect x="204" y="136" width="1" height="78" fill="#ff0000"/>
<rect x="202" y="145" width="5" height="67" fill="#ff0000"/>
<rect x="203" y="146" width="3" height="65" fill="#ff4500"/>
<rect x="212" y="158" width="1" height="20" fill="#32cd32"/>
<rect x="210" y="159" width="5" height="19" fill="#32cd32"/>
<rect x="220" y="140" width="1" height="41" fill="#ff0000"/>
<rect x="218" y="170" width="5" height="7" fill="#ff0000"/>
<rect x="219" y="171" width="3" height="5" fill="#ff4500"/>
<rect x="228" y="115" width="1" height="59" fill="#ff0000"/>
<rect x="226" y="150" width="5" height="20" fill="#ff0000"/>
<rect x="227" y="151" width="3" height="18" fill="#ff4500"/>
<rect x="236" y="119" width="1" height="66" fill="#ff0000"/>
<rect x="234" y="130" width="5" height="21" fill="#ff0000"/>
<rect x="235" y="131" width="3" height="19" fill="#ff4500"/>
<rect x="244" y="115" width="1" height="34" fill="#ff0000"/>
<rect x="242" y="126" width="5" height="5" fill="#ff0000"/>
<rect x="243" y="127" width="3" height="3" fill="#ff4500"/>
<rect x="252" y="110" width="1" height="58" fill="#ff0000"/>
<rect x="250" y="115" width="5" height="12" fill="#ff0000"/>
<rect x="251" y="116" width="3" height="10" fill="#ff4500"/>
<rect x="260" y="115" width="1" height="12" fill="#32cd32"/>
<rect x="258" y="121" width="5" height="6" fill="#32cd32"/>
<rect x="268" y="112" width="1" height="51" fill="#32cd32"/>
<rect x="266" y="126" width="5" height="31" fill="#32cd32"/>
<rect x="276" y="154" width="1" height="74" fill="#32cd32"/>
<rect x="274" y="157" width="5" height="65" fill="#32cd32"/>
<rect x="284" y="210" width="1" height="33" fill="#ff0000"/>
<rect x="282" y="217" width="5" height="5" fill="#ff0000"/>
<rect x="283" y="218" width="3" height="3" fill="#ff4500"/>
<rect x="292" y="179" width="1" height="41" fill="#ff0000"/>
<rect x="290" y="187" width="5" height="31" fill="#ff0000"/>
<rect x="291" y="188" width="3" height="29" fill="#ff4500"/>
<rect x="300" y="170" width="1" height="34" fill="#ff0000"/>
<rect x="298" y="175" width="5" height="14" fill="#ff0000"/>
<rect x="299" y="176" width="3" height="12" fill="#ff4500"/>
<rect x="308" y="175" width="1" height="7" fill="#32cd32"/>
<rect x="306" y="175" width="5" height="5" fill="#32cd32"/>
<rect x="316" y="124" width="1" height="65" fill="#ff0000"/>
<rect x="314" y="131" width="5" height="50" fill="#ff0000"/>
<rect x="315" y="132" width="3" height="48" fill="#ff4500"/>
<rect x="324" y="98" width="1" height="40" fill="#ff0000"/>
<rect x="322" y="99" width="5" height="33" fill="#ff0000"/>
<rect x="323" y="100" width="3" height="31" fill="#ff4500"/>
<rect x="332" y="60" width="1" height="60" fill="#32cd32"/>
<rect x="330" y="99" width="5" height="17" fill="#32cd32"/>
<rect x="340" y="104" width="1" height="53" fill="#32cd32"/>
<rect x="338" y="115" width="5" height="32" fill="#32cd32"/>
<rect x="348" y="90" width="1" height="60" fill="#ff0000"/>
<rect x="346" y="92" width="5" height="56" fill="#ff0000"/>
<rect x="347" y="93" width="3" height="54" fill="#ff4500"/>
<rect x="356" y="80" width="1" height="10" fill="#ff0000"/>
<rect x="354" y="81" width="5" height="8" fill="#ff0000"/>
<rect x="355" y="82" width="3" height="6" fill="#ff4500"/>
<rect x="364" y="45" width="1" height="44" fill="#ff0000"/>
<rect x="362" y="60" width="5" height="23" fill="#ff0000"/>
<rect x="363" y="61" width="3" height="21" fill="#ff4500"/>
<rect x="372" y="55" width="1" height="20" fill="#32cd32"/>
<rect x="370" y="61" width="5" height="8" fill="#32cd32"/>
<rect x="380" y="67" width="1" height="53" fill="#32cd32"/>
<rect x="378" y="68" width="5" height="40" fill="#32cd32"/>
<rect x="388" y="106" width="1" height="32" fill="#32cd32"/>
<rect x="386" y="107" width="5" height="15" fill="#32cd32"/>
<rect x="396" y="117" width="1" height="29" fill="#32cd32"/>
<rect x="394" y="121" width="5" height="10" fill="#32cd32"/>
<rect x="404" y="126" width="1" height="4" fill="#ff0000"/>
<rect x="402" y="127" width="5" height="2" fill="#ff0000"/>
<rect x="412" y="110" width="1" height="39" fill="#32cd32"/>
<rect x="410" y="127" width="5" height="16" fill="#32cd32"/>
<rect x="420" y="118" width="1" height="29" fill="#ff0000"/>
<rect x="418" y="127" width="5" height="16" fill="#ff0000"/>
<rect x="419" y="128" width="3" height="14" fill="#ff4500"/>
<rect x="428" y="117" width="1" height="29" fill="#32cd32"/>
<rect x="426" y="127" width="5" height="19" fill="#32cd32"/>
<rect x="436" y="129" width="1" height="44" fill="#32cd32"/>
<rect x="434" y="145" width="5" height="22" fill="#32cd32"/>
<rect x="444" y="163" width="1" height="73" fill="#32cd32"/>
<rect x="442" y="166" width="5" height="59" fill="#32cd32"/>
<rect x="452" y="213" width="1" height="18" fill="#ff0000"/>
<rect x="450" y="214" width="5" height="16" fill="#ff0000"/>
<rect x="451" y="215" width="3" height="14" fill="#ff4500"/>
<rect x="460" y="148" width="1" height="75" fill="#ff0000"/>
<rect x="458" y="162" width="5" height="53" fill="#ff0000"/>
<rect x="459" y="163" width="3" height="51" fill="#ff4500"/>
<rect x="468" y="155" width="1" height="55" fill="#32cd32"/>
<rect x="466" y="162" width="5" height="27" fill="#32cd32"/>
<rect x="476" y="154" width="1" height="43" fill="#ff0000"/>
<rect x="474" y="158" width="5" height="31" fill="#ff0000"/>
<rect x="475" y="159" width="3" height="29" fill="#ff4500"/>
<rect x="484" y="128" width="1" height="60" fill="#32cd32"/>
<rect x="482" y="158" width="5" height="17" fill="#32cd32"/>
<rect x="492" y="174" width="1" height="56" fill="#32cd32"/>
<rect x="490" y="175" width="5" height="55" fill="#32cd32"/>
<rect x="500" y="215" width="1" height="14" fill="#ff0000"/>
<rect x="498" y="220" width="5" height="4" fill="#ff0000"/>
<rect x="499" y="221" width="3" height="2" fill="#ff4500"/>
<rect x="508" y="192" width="1" height="50" fill="#ff0000"/>
<rect x="506" y="210" width="5" height="12" fill="#ff0000"/>
<rect x="507" y="211" width="3" height="10" fill="#ff4500"/>
<rect x="516" y="207" width="1" height="58" fill="#32cd32"/>
<rect x="514" y="210" width="5" height="50" fill="#32cd32"/>
<rect x="524" y="258" width="1" height="47" fill="#32cd32"/>
<rect x="522" y="258" width="5" height="43" fill="#32cd32"/>
<rect x="532" y="290" width="1" height="38" fill="#ff0000"/>
<rect x="530" y="297" width="5" height="4" fill="#ff0000"/>
<rect x="531" y="298" width="3" height="2" fill="#ff4500"/>
<rect x="540" y="263" width="1" height="56" fill="#ff0000"/>
<rect x="538" y="268" width="5" height="29" fill="#ff0000"/>
<rect x="539" y="269" width="3" height="27" fill="#ff4500"/>
<rect x="548" y="270" width="1" height="11" fill="#32cd32"/>
<rect x="546" y="277" width="5" height="3" fill="#32cd32"/>
<rect x="556" y="273" width="1" height="29" fill="#32cd32"/>
<rect x="554" y="279" width="5" height="15" fill="#32cd32"/>
<rect x="564" y="267" width="1" height="43" fill="#32cd32"/>
<rect x="562" y="293" width="5" height="11" fill="#32cd32"/>
<rect x="572" y="288" width="1" height="42" fill="#ff0000"/>
<rect x="570" y="296" width="5" height="8" fill="#ff0000"/>
<rect x="571" y="297" width="3" height="6" fill="#ff4500"/>
<rect x="580" y="293" width="1" height="36" fill="#32cd32"/>
<rect x="578" y="296" width="5" height="6" fill="#32cd32"/>
<rect x="588" y="261" width="1" height="43" fill="#ff0000"/>
<rect x="586" y="262" width="5" height="40" fill="#ff0000"/>
<rect x="587" y="263" width="3" height="38" fill="#ff4500"/>
<rect x="596" y="257" width="1" height="12" fill="#32cd32"/>
<rect x="594" y="259" width="5" height="10" fill="#32cd32"/>
<rect x="604" y="190" width="1" height="82" fill="#ff0000"/>
<rect x="602" y="232" width="5" height="36" fill="#ff0000"/>
<rect x="603" y="233" width="3" height="34" fill="#ff4500"/>
<rect x="612" y="208" width="1" height="41" fill="#32cd32"/>
<rect x="610" y="232" width="5" height="6" fill="#32cd32"/>
<rect x="620" y="198" width="1" height="72" fill="#ff0000"/>
<rect x="618" y="215" width="5" height="23" fill="#ff0000"/>
<rect x="619" y="216" width="3" height="21" fill="#ff4500"/>
<rect x="628" y="165" width="1" height="55" fill="#ff0000"/>
<rect x="626" y="165" width="5" height="51" fill="#ff0000"/>
<rect x="627" y="166" width="3" height="49" fill="#ff4500"/>
<rect x="636" y="138" width="1" height="47" fill="#ff0000"/>
<rect x="634" y="144" width="5" height="22" fill="#ff0000"/>
<rect x="635" y="145" width="3" height="20" fill="#ff4500"/>
<rect x="644" y="149" width="1" height="10" fill="#32cd32"/>
<rect x="642" y="155" width="5" height="4" fill="#32cd32"/>
<rect x="652" y="149" width="1" height="53" fill="#32cd32"/>
<rect x="650" y="158" width="5" height="24" fill="#32cd32"/>
<rect x="660" y="177" width="1" height="40" fill="#32cd32"/>
<rect x="658" y="181" width="5" height="17" fill="#32cd32"/>
<rect x="668" y="188" width="1" height="31" fill="#32cd32"/>
<rect x="666" y="196" width="5" height="3" fill="#32cd32"/>
<rect x="676" y="183" width="1" height="32" fill="#32cd32"/>
<rect x="674" y="198" width="5" height="6" fill="#32cd32"/>
<rect x="684" y="143" width="1" height="70" fill="#ff0000"/>
<rect x="682" y="162" width="5" height="41" fill="#ff0000"/>
<rect x="683" y="163" width="3" height="39" fill="#ff4500"/>
<rect x="692" y="162" width="1" height="5" fill="#32cd32"/>
<rect x="690" y="164" width="5" height="3" fill="#32cd32"/>
<rect x="700" y="160" width="1" height="55" fill="#32cd32"/>
<rect x="698" y="166" width="5" height="45" fill="#32cd32"/>
<rect x="708" y="180" width="1" height="32" fill="#ff0000"/>
<rect x="706" y="188" width="5" height="23" fill="#ff0000"/>
<rect x="707" y="189" width="3" height="21" fill="#ff4500"/>
<rect x="716" y="183" width="1" height="28" fill="#32cd32"/>
<rect x="714" y="188" width="5" height="17" fill="#32cd32"/>
<rect x="724" y="172" width="1" height="55" fill="#ff0000"/>
<rect x="722" y="172" width="5" height="33" fill="#ff0000"/>
<rect x="723" y="173" width="3" height="31" fill="#ff4500"/>
<rect x="732" y="163" width="1" height="46" fill="#ff0000"/>
<rect x="730" y="168" width="5" height="5" fill="#ff0000"/>
<rect x="731" y="169" width="3" height="3" fill="#ff4500"/>
<rect x="740" y="168" width="1" height="13" fill="#32cd32"/>
<rect x="738" y="173" width="5" height="6" fill="#32cd32"/>
<rect x="748" y="145" width="1" height="36" fill="#ff0000"/>
<rect x="746" y="175" width="5" height="4" fill="#ff0000"/>
<rect x="747" y="176" width="3" height="2" fill="#ff4500"/>
<rect x="756" y="150" width="1" height="41" fill="#32cd32"/>
<rect x="754" y="175" width="5" height="3" fill="#32cd32"/>
<rect x="764" y="177" width="1" height="35" fill="#32cd32"/>
<rect x="762" y="177" width="5" height="17" fill="#32cd32"/>
<rect x="772" y="172" width="1" height="34" fill="#ff0000"/>
<rect x="770" y="186" width="5" height="8" fill="#ff0000"/>
<rect x="771" y="187" width="3" height="6" fill="#ff4500"/>
<rect x="780" y="159" width="1" height="48" fill="#ff0000"/>
<rect x="778" y="167" width="5" height="20" fill="#ff0000"/>
<rect x="779" y="168" width="3" height="18" fill="#ff4500"/>
<rect x="788" y="157" width="1" height="7" fill="#ff0000"/>
<rect x="786" y="160" width="5" height="4" fill="#ff0000"/>
<rect x="787" y="161" width="3" height="2" fill="#ff4500"/>
<rect x="796" y="155" width="1" height="24" fill="#ff0000"/>
<rect x="794" y="159" width="5" height="3" fill="#ff0000"/>
<rect x="795" y="160" width="3" height="1" fill="#ff4500"/>
<rect x="804" y="145" width="1" height="37" fill="#ff0000"/>
<rect x="802" y="154" width="5" height="6" fill="#ff0000"/>
<rect x="803" y="155" width="3" height="4" fill="#ff4500"/>
<rect x="812" y="153" width="1" height="49" fill="#32cd32"/>
<rect x="810" y="154" width="5" height="19" fill="#32cd32"/>
<rect x="820" y="93" width="1" height="82" fill="#ff0000"/>
<rect x="818" y="132" width="5" height="41" fill="#ff0000"/>
<rect x="819" y="133" width="3" height="39" fill="#ff4500"/>
<rect x="828" y="125" width="1" height="61" fill="#32cd32"/>
<rect x="826" y="132" width="5" height="54" fill="#32cd32"/>
<rect x="836" y="158" width="1" height="12" fill="#ff0000"/>
<rect x="834" y="161" width="5" height="3" fill="#ff0000"/>
<rect x="835" y="162" width="3" height="1" fill="#ff4500"/>
<rect x="844" y="130" width="1" height="84" fill="#32cd32"/>
<rect x="842" y="160" width="5" height="50" fill="#32cd32"/>
<rect x="852" y="163" width="1" height="55" fill="#ff0000"/>
<rect x="850" y="178" width="5" height="33" fill="#ff0000"/>
<rect x="851" y="179" width="3" height="31" fill="#ff4500"/>
<rect x="860" y="166" width="1" height="66" fill="#32cd32"/>
<rect x="858" y="178" width="5" height="44" fill="#32cd32"/>
<rect x="868" y="195" width="1" height="60" fill="#ff0000"/>
<rect x="866" y="207" width="5" height="15" fill="#ff0000"/>
<rect x="867" y="208" width="3" height="13" fill="#ff4500"/>
<rect x="876" y="140" width="1" height="69" fill="#ff0000"/>
<rect x="874" y="168" width="5" height="40" fill="#ff0000"/>
<rect x="875" y="169" width="3" height="38" fill="#ff4500"/>
<rect x="884" y="160" width="1" height="25" fill="#32cd32"/>
<rect x="882" y="173" width="5" height="11" fill="#32cd32"/>
<rect x="892" y="124" width="1" height="76" fill="#ff0000"/>
<rect x="890" y="136" width="5" height="47" fill="#ff0000"/>
<rect x="891" y="137" width="3" height="45" fill="#ff4500"/>
<rect x="900" y="80" width="1" height="59" fill="#ff0000"/>
<rect x="898" y="85" width="5" height="52" fill="#ff0000"/>
<rect x="899" y="86" width="3" height="50" fill="#ff4500"/>
<rect x="908" y="85" width="1" height="53" fill="#32cd32"/>
<rect x="906" y="86" width="5" height="52" fill="#32cd32"/>
<rect x="916" y="113" width="1" height="51" fill="#32cd32"/>
<rect x="914" y="136" width="5" height="21" fill="#32cd32"/>
</g>
<g shape-rendering="crispEdges">
<rect x="4" y="446" width="2" height="26" fill="#c0c0c0"/>
<rect x="11" y="446" width="3" height="24" fill="#c0c0c0"/>
<rect x="19" y="446" width="3" height="22" fill="#c0c0c0"/>
<rect x="27" y="446" width="3" height="21" fill="#c0c0c0"/>
<rect x="35" y="446" width="3" height="19" fill="#c0c0c0"/>
<rect x="43" y="446" width="3" height="18" fill="#c0c0c0"/>
<rect x="51" y="446" width="3" height="14" fill="#c0c0c0"/>
<rect x="59" y="446" width="3" height="12" fill="#c0c0c0"/>
<rect x="67" y="446" width="3" height="9" fill="#c0c0c0"/>
<rect x="75" y="446" width="3" height="8" fill="#c0c0c0"/>
<rect x="83" y="446" width="3" height="7" fill="#c0c0c0"/>
<rect x="91" y="446" width="3" height="4" fill="#c0c0c0"/>
<rect x="99" y="444" width="3" height="2" fill="#c0c0c0"/>
<rect x="107" y="441" width="3" height="5" fill="#c0c0c0"/>
<rect x="115" y="439" width="3" height="7" fill="#c0c0c0"/>
<rect x="123" y="438" width="3" height="8" fill="#c0c0c0"/>
<rect x="131" y="437" width="3" height="9" fill="#c0c0c0"/>
<rect x="139" y="434" width="3" height="12" fill="#c0c0c0"/>
<rect x="147" y="432" width="3" height="14" fill="#c0c0c0"/>
<rect x="155" y="429" width="3" height="17" fill="#c0c0c0"/>
<rect x="163" y="427" width="3" height="19" fill="#c0c0c0"/>
<rect x="171" y="424" width="3" height="22" fill="#c0c0c0"/>
<rect x="179" y="423" width="3" height="23" fill="#c0c0c0"/>
<rect x="187" y="423" width="3" height="23" fill="#c0c0c0"/>
<rect x="195" y="423" width="3" height="23" fill="#c0c0c0"/>
<rect x="203" y="419" width="3" height="27" fill="#c0c0c0"/>
<rect x="211" y="419" width="3" height="27" fill="#c0c0c0"/>
<rect x="219" y="418" width="3" height="28" fill="#c0c0c0"/>
<rect x="227" y="417" width="3" height="29" fill="#c0c0c0"/>
<rect x="235" y="415" width="3" height="31" fill="#c0c0c0"/>
<rect x="243" y="414" width="3" height="32" fill="#c0c0c0"/>
<rect x="251" y="413" width="3" height="33" fill="#c0c0c0"/>
<rect x="259" y="413" width="3" height="33" fill="#c0c0c0"/>
<rect x="267" y="416" width="3" height="30" fill="#c0c0c0"/>
<rect x="275" y="420" width="3" height="26" fill="#c0c0c0"/>
<rect x="283" y="425" width="3" height="21" fill="#c0c0c0"/>
<rect x="291" y="427" width="3" height="19" fill="#c0c0c0"/>
<rect x="299" y="428" width="3" height="18" fill="#c0c0c0"/>
<rect x="307" y="430" width="3" height="16" fill="#c0c0c0"/>
<rect x="315" y="428" width="3" height="18" fill="#c0c0c0"/>
<rect x="323" y="425" width="3" height="21" fill="#c0c0c0"/>
<rect x="331" y="424" width="3" height="22" fill="#c0c0c0"/>
<rect x="339" y="426" width="3" height="20" fill="#c0c0c0"/>
<rect x="347" y="424" width="3" height="22" fill="#c0c0c0"/>
<rect x="355" y="422" width="3" height="24" fill="#c0c0c0"/>
<rect x="363" y="419" width="3" height="27" fill="#c0c0c0"/>
<rect x="371" y="418" width="3" height="28" fill="#c0c0c0"/>
<rect x="379" y="420" width="3" height="26" fill="#c0c0c0"/>
<rect x="387" y="422" width="3" height="24" fill="#c0c0c0"/>
<rect x="395" y="425" width="3" height="21" fill="#c0c0c0"/>
<rect x="403" y="427" width="3" height="19" fill="#c0c0c0"/>
<rect x="411" y="430" width="3" height="16" fill="#c0c0c0"/>
<rect x="419" y="431" width="3" height="15" fill="#c0c0c0"/>
<rect x="427" y="434" width="3" height="12" fill="#c0c0c0"/>
<rect x="435" y="437" width="3" height="9" fill="#c0c0c0"/>
<rect x="443" y="443" width="3" height="3" fill="#c0c0c0"/>
<rect x="451" y="446" width="3" height="2" fill="#c0c0c0"/>
<rect x="459" y="446" width="3" height="2" fill="#c0c0c0"/>
<rect x="467" y="446" width="3" height="4" fill="#c0c0c0"/>
<rect x="475" y="446" width="3" height="3" fill="#c0c0c0"/>
<rect x="483" y="446" width="3" height="4" fill="#c0c0c0"/>
<rect x="491" y="446" width="3" height="7" fill="#c0c0c0"/>
<rect x="499" y="446" width="3" height="9" fill="#c0c0c0"/>
<rect x="507" y="446" width="3" height="11" fill="#c0c0c0"/>
<rect x="515" y="446" width="3" height="14" fill="#c0c0c0"/>
<rect x="523" y="446" width="3" height="19" fill="#c0c0c0"/>
<rect x="531" y="446" width="3" height="22" fill="#c0c0c0"/>
<rect x="539" y="446" width="3" height="23" fill="#c0c0c0"/>
<rect x="547" y="446" width="3" height="24" fill="#c0c0c0"/>
<rect x="555" y="446" width="3" height="26" fill="#c0c0c0"/>
<rect x="563" y="446" width="3" height="27" fill="#c0c0c0"/>
<rect x="571" y="446" width="3" height="27" fill="#c0c0c0"/>
<rect x="579" y="446" width="3" height="27" fill="#c0c0c0"/>
<rect x="587" y="446" width="3" height="25" fill="#c0c0c0"/>
<rect x="595" y="446" width="3" height="23" fill="#c0c0c0"/>
<rect x="603" y="446" width="3" height="20" fill="#c0c0c0"/>
<rect x="611" y="446" width="3" height="17" fill="#c0c0c0"/>
<rect x="619" y="446" width="3" height="13" fill="#c0c0c0"/>
<rect x="627" y="446" width="3" height="8" fill="#c0c0c0"/>
<rect x="635" y="446" width="3" height="2" fill="#c0c0c0"/>
<rect x="643" y="443" width="3" height="3" fill="#c0c0c0"/>
<rect x="651" y="441" width="3" height="5" fill="#c0c0c0"/>
<rect x="659" y="441" width="3" height="5" fill="#c0c0c0"/>
<rect x="667" y="441" width="3" height="5" fill="#c0c0c0"/>
<rect x="675" y="441" width="3" height="5" fill="#c0c0c0"/>
<rect x="683" y="439" width="3" height="7" fill="#c0c0c0"/>
<rect x="691" y="438" width="3" height="8" fill="#c0c0c0"/>
<rect x="699" y="439" width="3" height="7" fill="#c0c0c0"/>
<rect x="707" y="440" width="3" height="6" fill="#c0c0c0"/>
<rect x="715" y="440" width="3" height="6" fill="#c0c0c0"/>
<rect x="723" y="440" width="3" height="6" fill="#c0c0c0"/>
<rect x="731" y="439" width="3" height="7" fill="#c0c0c0"/>
<rect x="739" y="438" width="3" height="8" fill="#c0c0c0"/>
<rect x="747" y="438" width="3" height="8" fill="#c0c0c0"/>
<rect x="755" y="438" width="3" height="8" fill="#c0c0c0"/>
<rect x="763" y="439" width="3" height="7" fill="#c0c0c0"/>
<rect x="771" y="439" width="3" height="7" fill="#c0c0c0"/>
<rect x="779" y="439" width="3" height="7" fill="#c0c0c0"/>
<rect x="787" y="439" width="3" height="7" fill="#c0c0c0"/>
<rect x="795" y="438" width="3" height="8" fill="#c0c0c0"/>
<rect x="803" y="437" width="3" height="9" fill="#c0c0c0"/>
<rect x="811" y="438" width="3" height="8" fill="#c0c0c0"/>
<rect x="819" y="436" width="3" height="10" fill="#c0c0c0"/>
<rect x="827" y="437" width="3" height="9" fill="#c0c0c0"/>
<rect x="835" y="438" width="3" height="8" fill="#c0c0c0"/>
<rect x="843" y="441" width="3" height="5" fill="#c0c0c0"/>
<rect x="851" y="442" width="3" height="4" fill="#c0c0c0"/>
<rect x="859" y="445" width="3" height="1" fill="#c0c0c0"/>
<rect x="867" y="446" width="3" height="1" fill="#c0c0c0"/>
<rect x="875" y="446" width="3" height="1" fill="#c0c0c0"/>
<rect x="883" y="445" width="3" height="1" fill="#c0c0c0"/>
<rect x="891" y="443" width="3" height="3" fill="#c0c0c0"/>
<rect x="899" y="438" width="3" height="8" fill="#c0c0c0"/>
<rect x="907" y="437" width="3" height="9" fill="#c0c0c0"/>
<rect x="915" y="437" width="3" height="9" fill="#c0c0c0"/>
<path d="M265 416h16v1h-16zM257 417h8v1h-8zM281 417h8v1h-8zM249 418h8v1h-8zM289 418h6v1h-6zM241 419h8v1h-8zM295 419h4v1h-4zM233 420h8v1h-8zM299 420h12v1h-12zM225 421h8v1h-8zM311 421h4v1h-4zM219 422h6v1h-6zM315 422h6v1h-6zM385 422h16v1h-16zM215 423h4v1h-4zM321 423h8v1h-8zM377 423h8v1h-8zM401 423h16v1h-16zM211 424h4v1h-4zM329 424h6v1h-6zM369 424h8v1h-8zM417 424h8v1h-8zM207 425h4v1h-4zM335 425h4v1h-4zM361 425h8v1h-8zM425 425h5v1h-5zM203 426h4v1h-4zM339 426h22v1h-22zM430 426h3v1h-3zM199 427h4v1h-4zM433 427h2v1h-2zM195 428h4v1h-4zM435 428h4v1h-4zM191 429h4v1h-4zM439 429h4v1h-4zM185 430h6v1h-6zM443 430h3v1h-3zM179 431h6v1h-6zM446 431h2v1h-2zM175 432h4v1h-4zM448 432h2v1h-2zM171 433h4v1h-4zM450 433h2v1h-2zM169 434h2v1h-2zM452 434h3v1h-3zM166 435h3v1h-3zM455 435h4v1h-4zM163 436h3v1h-3zM459 436h4v1h-4zM159 437h4v1h-4zM463 437h4v1h-4zM155 438h4v1h-4zM467 438h3v1h-3zM809 438h48v1h-48zM153 439h2v1h-2zM470 439h3v1h-3zM745 439h64v1h-64zM857 439h8v1h-8zM150 440h3v1h-3zM473 440h2v1h-2zM707 440h38v1h-38zM865 440h8v1h-8zM147 441h3v1h-3zM475 441h4v1h-4zM703 441h4v1h-4zM873 441h8v1h-8zM143 442h4v1h-4zM479 442h4v1h-4zM699 442h4v1h-4zM881 442h6v1h-6zM899 442h18v1h-18zM137 443h6v1h-6zM483 443h4v1h-4zM695 443h4v1h-4zM887 443h4v1h-4zM895 443h4v1h-4zM131 444h6v1h-6zM487 444h4v1h-4zM691 444h4v1h-4zM891 444h4v1h-4zM129 445h2v1h-2zM491 445h4v1h-4zM687 445h4v1h-4zM126 446h3v1h-3zM495 446h4v1h-4zM683 446h4v1h-4zM123 447h3v1h-3zM499 447h4v1h-4zM679 447h4v1h-4zM121 448h2v1h-2zM503 448h4v1h-4zM675 448h4v1h-4zM118 449h3v1h-3zM507 449h4v1h-4zM673 449h2v1h-2zM115 450h3v1h-3zM511 450h4v1h-4zM670 450h3v1h-3zM111 451h4v1h-4zM515 451h4v1h-4zM667 451h3v1h-3zM107 452h4v1h-4zM519 452h4v1h-4zM665 452h2v1h-2zM103 453h4v1h-4zM523 453h4v1h-4zM662 453h3v1h-3zM99 454h4v1h-4zM527 454h4v1h-4zM659 454h3v1h-3zM95 455h4v1h-4zM531 455h3v1h-3zM657 455h2v1h-2zM91 456h4v1h-4zM534 456h3v1h-3zM654 456h3v1h-3zM87 457h4v1h-4zM537 457h2v1h-2zM651 457h3v1h-3zM83 458h4v1h-4zM539 458h4v1h-4zM649 458h2v1h-2zM79 459h4v1h-4zM543 459h4v1h-4zM646 459h3v1h-3zM75 460h4v1h-4zM547 460h4v1h-4zM644 460h2v1h-2zM71 461h4v1h-4zM551 461h4v1h-4zM642 461h2v1h-2zM67 462h4v1h-4zM555 462h4v1h-4zM640 462h2v1h-2zM63 463h4v1h-4zM559 463h4v1h-4zM638 463h2v1h-2zM59 464h4v1h-4zM563 464h4v1h-4zM635 464h3v1h-3zM55 465h4v1h-4zM567 465h4v1h-4zM631 465h4v1h-4zM51 466h4v1h-4zM571 466h4v1h-4zM627 466h4v1h-4zM47 467h4v1h-4zM575 467h4v1h-4zM623 467h4v1h-4zM43 468h4v1h-4zM579 468h4v1h-4zM619 468h4v1h-4zM39 469h4v1h-4zM583 469h4v1h-4zM615 469h4v1h-4zM33 470h6v1h-6zM587 470h28v1h-28zM25 471h8v1h-8zM17 472h8v1h-8zM9 473h8v1h-8zM4 474h5v1h-5z" fill="#ff0000"/>
<line x1="5" y1="502.5" x2="1166" y2="502.5" stroke="#c0c0c0" stroke-width="1" stroke-dasharray="3,3"/>
<line x1="5" y1="530.5" x2="1166" y2="530.5" stroke="#c0c0c0" stroke-width="1" stroke-dasharray="3,3"/>
<path d="M204 500h1v1h-1zM249 500h6v1h-6zM171 501h3v1h-3zM203 501h1v1h-1zM205 501h2v1h-2zM241 501h8v1h-8zM255 501h4v1h-4zM169 502h2v1h-2zM174 502h3v1h-3zM201 502h2v1h-2zM207 502h1v1h-1zM233 502h8v1h-8zM259 502h2v1h-2zM155 503h6v1h-6zM166 503h3v1h-3zM177 503h2v1h-2zM200 503h1v1h-1zM208 503h1v1h-1zM227 503h6v1h-6zM261 503h2v1h-2zM100 504h2v1h-2zM153 504h2v1h-2zM161 504h5v1h-5zM179 504h4v1h-4zM199 504h1v1h-1zM209 504h2v1h-2zM223 504h4v1h-4zM263 504h1v1h-1zM363 504h4v1h-4zM99 505h1v1h-1zM102 505h2v1h-2zM139 505h6v1h-6zM150 505h3v1h-3zM183 505h4v1h-4zM197 505h2v1h-2zM211 505h1v1h-1zM217 505h6v1h-6zM264 505h1v1h-1zM359 505h4v1h-4zM367 505h4v1h-4zM98 506h1v1h-1zM104 506h2v1h-2zM137 506h2v1h-2zM145 506h5v1h-5zM187 506h10v1h-10zM212 506h5v1h-5zM265 506h2v1h-2zM323 506h6v1h-6zM355 506h4v1h-4zM371 506h3v1h-3zM97 507h1v1h-1zM106 507h2v1h-2zM134 507h3v1h-3zM267 507h1v1h-1zM321 507h2v1h-2zM329 507h4v1h-4zM351 507h4v1h-4zM374 507h2v1h-2zM635 507h4v1h-4zM900 507h1v1h-1zM95 508h2v1h-2zM108 508h10v1h-10zM132 508h2v1h-2zM268 508h1v1h-1zM318 508h3v1h-3zM333 508h2v1h-2zM348 508h3v1h-3zM376 508h2v1h-2zM633 508h2v1h-2zM639 508h4v1h-4zM820 508h1v1h-1zM898 508h2v1h-2zM901 508h2v1h-2zM94 509h1v1h-1zM118 509h2v1h-2zM130 509h2v1h-2zM269 509h1v1h-1zM316 509h2v1h-2zM335 509h2v1h-2zM346 509h2v1h-2zM378 509h2v1h-2zM630 509h3v1h-3zM643 509h3v1h-3zM819 509h1v1h-1zM821 509h1v1h-1zM896 509h2v1h-2zM903 509h1v1h-1zM93 510h1v1h-1zM120 510h2v1h-2zM128 510h2v1h-2zM270 510h1v1h-1zM314 510h2v1h-2zM337 510h1v1h-1zM344 510h2v1h-2zM380 510h2v1h-2zM628 510h2v1h-2zM646 510h3v1h-3zM684 510h5v1h-5zM801 510h5v1h-5zM817 510h2v1h-2zM822 510h1v1h-1zM894 510h2v1h-2zM904 510h1v1h-1zM92 511h1v1h-1zM122 511h2v1h-2zM126 511h2v1h-2zM270 511h1v1h-1zM312 511h2v1h-2zM338 511h2v1h-2zM342 511h2v1h-2zM382 511h3v1h-3zM626 511h2v1h-2zM649 511h2v1h-2zM682 511h2v1h-2zM689 511h4v1h-4zM785 511h16v1h-16zM806 511h2v1h-2zM816 511h1v1h-1zM823 511h1v1h-1zM892 511h2v1h-2zM905 511h2v1h-2zM90 512h2v1h-2zM124 512h2v1h-2zM271 512h1v1h-1zM299 512h6v1h-6zM310 512h2v1h-2zM340 512h2v1h-2zM385 512h2v1h-2zM624 512h2v1h-2zM651 512h4v1h-4zM681 512h1v1h-1zM693 512h2v1h-2zM724 512h13v1h-13zM779 512h6v1h-6zM808 512h2v1h-2zM815 512h1v1h-1zM824 512h1v1h-1zM890 512h2v1h-2zM907 512h1v1h-1zM89 513h1v1h-1zM272 513h1v1h-1zM295 513h4v1h-4zM305 513h5v1h-5zM387 513h6v1h-6zM401 513h6v1h-6zM622 513h2v1h-2zM655 513h4v1h-4zM679 513h2v1h-2zM695 513h1v1h-1zM722 513h2v1h-2zM737 513h21v1h-21zM777 513h2v1h-2zM810 513h2v1h-2zM813 513h2v1h-2zM824 513h1v1h-1zM836 513h1v1h-1zM889 513h1v1h-1zM908 513h3v1h-3zM52 514h21v1h-21zM87 514h2v1h-2zM273 514h1v1h-1zM292 514h3v1h-3zM393 514h8v1h-8zM407 514h4v1h-4zM417 514h6v1h-6zM619 514h3v1h-3zM659 514h14v1h-14zM677 514h2v1h-2zM696 514h1v1h-1zM707 514h4v1h-4zM720 514h2v1h-2zM758 514h3v1h-3zM774 514h3v1h-3zM812 514h1v1h-1zM825 514h1v1h-1zM834 514h2v1h-2zM837 514h2v1h-2zM876 514h3v1h-3zM887 514h2v1h-2zM911 514h4v1h-4zM51 515h1v1h-1zM73 515h8v1h-8zM85 515h2v1h-2zM274 515h1v1h-1zM290 515h2v1h-2zM411 515h6v1h-6zM423 515h4v1h-4zM615 515h4v1h-4zM673 515h4v1h-4zM697 515h2v1h-2zM705 515h2v1h-2zM711 515h4v1h-4zM718 515h2v1h-2zM761 515h2v1h-2zM769 515h5v1h-5zM826 515h1v1h-1zM832 515h2v1h-2zM839 515h1v1h-1zM874 515h2v1h-2zM879 515h4v1h-4zM885 515h2v1h-2zM915 515h2v1h-2zM50 516h1v1h-1zM81 516h4v1h-4zM274 516h1v1h-1zM288 516h2v1h-2zM427 516h3v1h-3zM475 516h4v1h-4zM604 516h11v1h-11zM699 516h1v1h-1zM702 516h3v1h-3zM715 516h3v1h-3zM763 516h6v1h-6zM827 516h1v1h-1zM830 516h2v1h-2zM840 516h1v1h-1zM851 516h3v1h-3zM872 516h2v1h-2zM883 516h2v1h-2zM49 517h1v1h-1zM275 517h1v1h-1zM286 517h2v1h-2zM430 517h3v1h-3zM473 517h2v1h-2zM479 517h4v1h-4zM602 517h2v1h-2zM700 517h2v1h-2zM828 517h2v1h-2zM841 517h2v1h-2zM849 517h2v1h-2zM854 517h2v1h-2zM870 517h2v1h-2zM48 518h1v1h-1zM276 518h10v1h-10zM433 518h2v1h-2zM460 518h5v1h-5zM470 518h3v1h-3zM483 518h3v1h-3zM600 518h2v1h-2zM843 518h1v1h-1zM846 518h3v1h-3zM856 518h2v1h-2zM867 518h3v1h-3zM36 519h2v1h-2zM47 519h1v1h-1zM435 519h2v1h-2zM458 519h2v1h-2zM465 519h5v1h-5zM486 519h2v1h-2zM598 519h2v1h-2zM844 519h2v1h-2zM858 519h2v1h-2zM863 519h4v1h-4zM34 520h2v1h-2zM38 520h3v1h-3zM46 520h1v1h-1zM437 520h2v1h-2zM456 520h2v1h-2zM488 520h2v1h-2zM507 520h3v1h-3zM588 520h10v1h-10zM860 520h3v1h-3zM32 521h2v1h-2zM41 521h2v1h-2zM45 521h1v1h-1zM439 521h1v1h-1zM454 521h2v1h-2zM490 521h2v1h-2zM503 521h4v1h-4zM510 521h2v1h-2zM587 521h1v1h-1zM30 522h2v1h-2zM43 522h2v1h-2zM440 522h1v1h-1zM451 522h3v1h-3zM492 522h11v1h-11zM512 522h2v1h-2zM585 522h2v1h-2zM17 523h13v1h-13zM441 523h2v1h-2zM449 523h2v1h-2zM514 523h2v1h-2zM540 523h5v1h-5zM584 523h1v1h-1zM12 524h5v1h-5zM443 524h1v1h-1zM446 524h3v1h-3zM516 524h2v1h-2zM538 524h2v1h-2zM545 524h8v1h-8zM583 524h1v1h-1zM10 525h2v1h-2zM444 525h2v1h-2zM518 525h3v1h-3zM536 525h2v1h-2zM553 525h8v1h-8zM581 525h2v1h-2zM8 526h2v1h-2zM521 526h2v1h-2zM534 526h2v1h-2zM561 526h20v1h-20zM6 527h2v1h-2zM523 527h11v1h-11zM4 528h2v1h-2z" fill="#1e90ff"/>
<rect x="4" y="552" width="1" height="3" fill="#000"/>
<rect x="68" y="552" width="1" height="3" fill="#000"/>
<rect x="132" y="552" width="1" height="3" fill="#000"/>
<rect x="196" y="552" width="1" height="3" fill="#000"/>
<rect x="260" y="552" width="1" height="3" fill="#000"/>
<rect x="324" y="552" width="1" height="3" fill="#000"/>
<rect x="388" y="552" width="1" height="3" fill="#000"/>
<rect x="452" y="552" width="1" height="3" fill="#000"/>
<rect x="516" y="552" width="1" height="3" fill="#000"/>
<rect x="580" y="552" width="1" height="3" fill="#000"/>
<rect x="644" y="552" width="1" height="3" fill="#000"/>
<rect x="708" y="552" width="1" height="3" fill="#000"/>
<rect x="772" y="552" width="1" height="3" fill="#000"/>
<rect x="836" y="552" width="1" height="3" fill="#000"/>
<rect x="900" y="552" width="1" height="3" fill="#000"/>
</g>
<text x="3.6" y="564" class="dt" textLength="50.1" lengthAdjust="spacingAndGlyphs">28 Oct 2021</text>
<text x="67.6" y="564" class="dt" textLength="47.0" lengthAdjust="spacingAndGlyphs">7 Nov 2021</text>
<text x="131.6" y="564" class="dt" textLength="52.2" lengthAdjust="spacingAndGlyphs">16 Nov 2021</text>
<text x="195.6" y="564" class="dt" textLength="52.2" lengthAdjust="spacingAndGlyphs">25 Nov 2021</text>
<text x="259.6" y="564" class="dt" textLength="47.0" lengthAdjust="spacingAndGlyphs">5 Dec 2021</text>
<text x="323.6" y="564" class="dt" textLength="52.2" lengthAdjust="spacingAndGlyphs">14 Dec 2021</text>
<text x="387.6" y="564" class="dt" textLength="52.2" lengthAdjust="spacingAndGlyphs">23 Dec 2021</text>
<text x="451.6" y="564" class="dt" textLength="44.5" lengthAdjust="spacingAndGlyphs">2 Jan 2022</text>
<text x="515.6" y="564" class="dt" textLength="49.5" lengthAdjust="spacingAndGlyphs">11 Jan 2022</text>
<text x="579.6" y="564" class="dt" textLength="49.5" lengthAdjust="spacingAndGlyphs">20 Jan 2022</text>
<text x="643.6" y="564" class="dt" textLength="49.5" lengthAdjust="spacingAndGlyphs">30 Jan 2022</text>
<text x="707.6" y="564" class="dt" textLength="45.5" lengthAdjust="spacingAndGlyphs">8 Feb 2022</text>
<text x="771.6" y="564" class="dt" textLength="50.5" lengthAdjust="spacingAndGlyphs">17 Feb 2022</text>
<text x="835.6" y="564" class="dt" textLength="50.5" lengthAdjust="spacingAndGlyphs">27 Feb 2022</text>
<text x="899.6" y="564" class="dt" textLength="45.5" lengthAdjust="spacingAndGlyphs">8 Mar 2022</text>
<g shape-rendering="crispEdges">
<rect x="1167" y="40" width="2" height="1" fill="#000"/>
<rect x="1167" y="73" width="2" height="1" fill="#000"/>
<rect x="1167" y="106" width="2" height="1" fill="#000"/>
<rect x="1167" y="139" width="2" height="1" fill="#000"/>
<rect x="1167" y="172" width="2" height="1" fill="#000"/>
<rect x="1167" y="205" width="2" height="1" fill="#000"/>
<rect x="1167" y="238" width="2" height="1" fill="#000"/>
<rect x="1167" y="271" width="2" height="1" fill="#000"/>
<rect x="1167" y="304" width="2" height="1" fill="#000"/>
<rect x="1167" y="337" width="2" height="1" fill="#000"/>
<rect x="1167" y="370" width="2" height="1" fill="#000"/>
<rect x="1167" y="408" width="2" height="1" fill="#000"/>
<rect x="1167" y="478" width="2" height="1" fill="#000"/>
<rect x="1167" y="480" width="2" height="1" fill="#000"/>
<rect x="1167" y="551" width="2" height="1" fill="#000"/>
<rect x="1167" y="446" width="2" height="1" fill="#000"/>
<rect x="1167" y="502" width="2" height="1" fill="#000"/>
<rect x="1167" y="530" width="2" height="1" fill="#000"/>
</g>
<text x="1172.5" y="44" class="ax" textLength="32.6" lengthAdjust="spacingAndGlyphs">1.29725</text>
<text x="1172.5" y="77" class="ax" textLength="32.6" lengthAdjust="spacingAndGlyphs">1.29125</text>
<text x="1172.5" y="110" class="ax" textLength="32.6" lengthAdjust="spacingAndGlyphs">1.28525</text>
<text x="1172.5" y="143" class="ax" textLength="32.6" lengthAdjust="spacingAndGlyphs">1.27925</text>
<text x="1172.5" y="176" class="ax" textLength="32.6" lengthAdjust="spacingAndGlyphs">1.27340</text>
<text x="1172.5" y="209" class="ax" textLength="32.6" lengthAdjust="spacingAndGlyphs">1.26740</text>
<text x="1172.5" y="242" class="ax" textLength="32.6" lengthAdjust="spacingAndGlyphs">1.26140</text>
<text x="1172.5" y="275" class="ax" textLength="32.6" lengthAdjust="spacingAndGlyphs">1.25540</text>
<text x="1172.5" y="308" class="ax" textLength="32.6" lengthAdjust="spacingAndGlyphs">1.24940</text>
<text x="1172.5" y="341" class="ax" textLength="32.6" lengthAdjust="spacingAndGlyphs">1.24355</text>
<text x="1172.5" y="374" class="ax" textLength="32.6" lengthAdjust="spacingAndGlyphs">1.23755</text>
<text x="1172.5" y="407" class="ax" textLength="32.6" lengthAdjust="spacingAndGlyphs">1.23155</text>
<g shape-rendering="crispEdges">
<rect x="1168" y="151" width="38" height="11" fill="#000"/>
</g>
<text x="1172.5" y="160" class="lbl" textLength="32.6" lengthAdjust="spacingAndGlyphs">1.27617</text>
<g shape-rendering="crispEdges">
<rect x="1168" y="79" width="38" height="11" fill="#ff0000"/>
<rect x="1168" y="156" width="38" height="11" fill="#ff0000"/>
<rect x="1168" y="223" width="38" height="11" fill="#00ff00"/>
<rect x="1168" y="305" width="38" height="11" fill="#0000ff"/>
<rect x="1168" y="395" width="38" height="11" fill="#0000ff"/>
</g>
<text x="1172.5" y="88" class="lbl" textLength="32.6" lengthAdjust="spacingAndGlyphs">1.28912</text>
<text x="1172.5" y="165" class="lbl" textLength="32.6" lengthAdjust="spacingAndGlyphs">1.27515</text>
<text x="1172.5" y="232" class="lbl" textLength="32.6" lengthAdjust="spacingAndGlyphs">1.26297</text>
<text x="1172.5" y="314" class="lbl" textLength="32.6" lengthAdjust="spacingAndGlyphs">1.24816</text>
<text x="1172.5" y="404" class="lbl" textLength="32.6" lengthAdjust="spacingAndGlyphs">1.23200</text>
<text x="1170" y="419.5" class="ax" textLength="36.9" lengthAdjust="spacingAndGlyphs">0.009303</text>
<text x="1170" y="450" class="ax" textLength="17.5" lengthAdjust="spacingAndGlyphs">0.00</text>
<text x="1170.3" y="474.5" class="ax" textLength="34.9" lengthAdjust="spacingAndGlyphs">-0.00801</text>
<text x="1170" y="491" class="ax" textLength="14.7" lengthAdjust="spacingAndGlyphs">100</text>
<text x="1170" y="506.5" class="ax" textLength="9.8" lengthAdjust="spacingAndGlyphs">70</text>
<text x="1170" y="534" class="ax" textLength="9.8" lengthAdjust="spacingAndGlyphs">30</text>
<text x="1170" y="548" class="ax">0</text>
<path d="M7,33 h7.2 l-3.6,4.2 z" fill="#000"/>
<text x="19.2" y="38" class="ax" textLength="68.6" lengthAdjust="spacingAndGlyphs">USDCAD-,Daily</text>
<text x="93.6" y="38" class="ax" textLength="32.8" lengthAdjust="spacingAndGlyphs">1.27983</text>
<text x="130.1" y="38" class="ax" textLength="32.8" lengthAdjust="spacingAndGlyphs">1.28407</text>
<text x="166.3" y="38" class="ax" textLength="32.8" lengthAdjust="spacingAndGlyphs">1.27493</text>
<text x="202.1" y="38" class="ax" textLength="32.8" lengthAdjust="spacingAndGlyphs">1.27617</text>
<text x="8.2" y="421" class="ax" textLength="65.2" lengthAdjust="spacingAndGlyphs">MACD(12,26,9)</text>
<text x="77.6" y="421" class="ax" textLength="37.0" lengthAdjust="spacingAndGlyphs">0.002171</text>
<text x="118.2" y="421" class="ax" textLength="37.6" lengthAdjust="spacingAndGlyphs">0.001038</text>
<text x="8.2" y="493" class="ax" textLength="31.6" lengthAdjust="spacingAndGlyphs">RSI(14)</text>
<text x="43.1" y="493" class="ax" textLength="32.6" lengthAdjust="spacingAndGlyphs">51.9197</text>
<text x="0.2" y="14" class="tb">5</text>
<text x="15.2" y="14" class="tb" textLength="18.4" lengthAdjust="spacingAndGlyphs">M30</text>
<text x="45.9" y="14" class="tb" textLength="12.0" lengthAdjust="spacingAndGlyphs">H1</text>
<text x="73" y="14" class="tb" textLength="12.9" lengthAdjust="spacingAndGlyphs">H4</text>
<text x="102.1" y="14" class="tb" textLength="12.0" lengthAdjust="spacingAndGlyphs">D1</text>
<text x="130" y="14" class="tb" textLength="14.1" lengthAdjust="spacingAndGlyphs">W1</text>
<text x="155.9" y="14" class="tb" textLength="15.6" lengthAdjust="spacingAndGlyphs">MN</text>
<g shape-rendering="crispEdges">
<rect x="0" y="572" width="1206" height="1" fill="#ececec"/>
<rect x="0" y="573" width="1206" height="1" fill="#dcdcdc"/>
<rect x="0" y="574" width="1206" height="1" fill="#000"/>
<rect x="0" y="575" width="1206" height="19" fill="#f0f0f0"/>
<rect x="0" y="575" width="1" height="18" fill="#404040"/>
<rect x="1" y="575" width="1" height="18" fill="#fff"/>
<rect x="0" y="593" width="1206" height="1" fill="#f6f6f6"/>
<rect x="0" y="594" width="1206" height="2" fill="#fcfcfc"/>
<rect x="0" y="596" width="1206" height="1" fill="#f0f0f0"/>
<rect x="0" y="597" width="1206" height="1" fill="#cccccc"/>
<rect x="0" y="598" width="1206" height="1" fill="#989898"/>
<rect x="429" y="574" width="108" height="19" fill="#000"/>
<rect x="430" y="572" width="106" height="20" fill="#fff"/>
</g>
<text x="16.0" y="588.8" class="tab" textLength="78.5" lengthAdjust="spacingAndGlyphs">USDX,Weekly</text>
<text x="116.30000000000001" y="588.8" class="tab" textLength="85.3" lengthAdjust="spacingAndGlyphs">EURUSD-,Daily</text>
<text x="222.6" y="588.8" class="tab" textLength="87.6" lengthAdjust="spacingAndGlyphs">AUDUSD-,Daily</text>
<text x="332.79999999999995" y="588.8" class="tab" textLength="84.8" lengthAdjust="spacingAndGlyphs">USDCHF-,Daily</text>
<text x="439.9" y="588.8" class="tab" style="fill:#000" textLength="86.9" lengthAdjust="spacingAndGlyphs">USDCAD-,Daily</text>
<text x="548.4" y="588.8" class="tab" textLength="88.7" lengthAdjust="spacingAndGlyphs">USDCNH-,Daily</text>
<text x="659.8" y="588.8" class="tab" textLength="76.8" lengthAdjust="spacingAndGlyphs">XAUUSD-,M5</text>
<text x="759.0" y="588.8" class="tab" textLength="67.3" lengthAdjust="spacingAndGlyphs">UKOil-,M30</text>
<text x="848.9" y="588.8" class="tab" textLength="64.4" lengthAdjust="spacingAndGlyphs">DJ30-,Daily</text>
<text x="936.0" y="588.8" class="tab" textLength="62.0" lengthAdjust="spacingAndGlyphs">UK100-,H1</text>
<text x="1021.1" y="588.8" class="tab" textLength="55.7" lengthAdjust="spacingAndGlyphs">USOil-,H1</text>
<g shape-rendering="crispEdges">
<rect x="105" y="577" width="1" height="14" fill="#6e6e6e"/>
<rect x="213" y="577" width="1" height="14" fill="#6e6e6e"/>
<rect x="321" y="577" width="1" height="14" fill="#6e6e6e"/>
<rect x="649" y="577" width="1" height="14" fill="#6e6e6e"/>
<rect x="749" y="577" width="1" height="14" fill="#6e6e6e"/>
<rect x="837" y="577" width="1" height="14" fill="#6e6e6e"/>
<rect x="925" y="577" width="1" height="14" fill="#6e6e6e"/>
<rect x="1009" y="577" width="1" height="14" fill="#6e6e6e"/>
<rect x="1089" y="577" width="1" height="14" fill="#6e6e6e"/>
</g>
<path d="M1185,580 l0,6.4 l-3.4,-3.2 z" fill="#8c8c8c"/><path d="M1201,580 l0,6.4 l3.4,-3.2 z" fill="#8c8c8c"/>
</svg></body></html>
